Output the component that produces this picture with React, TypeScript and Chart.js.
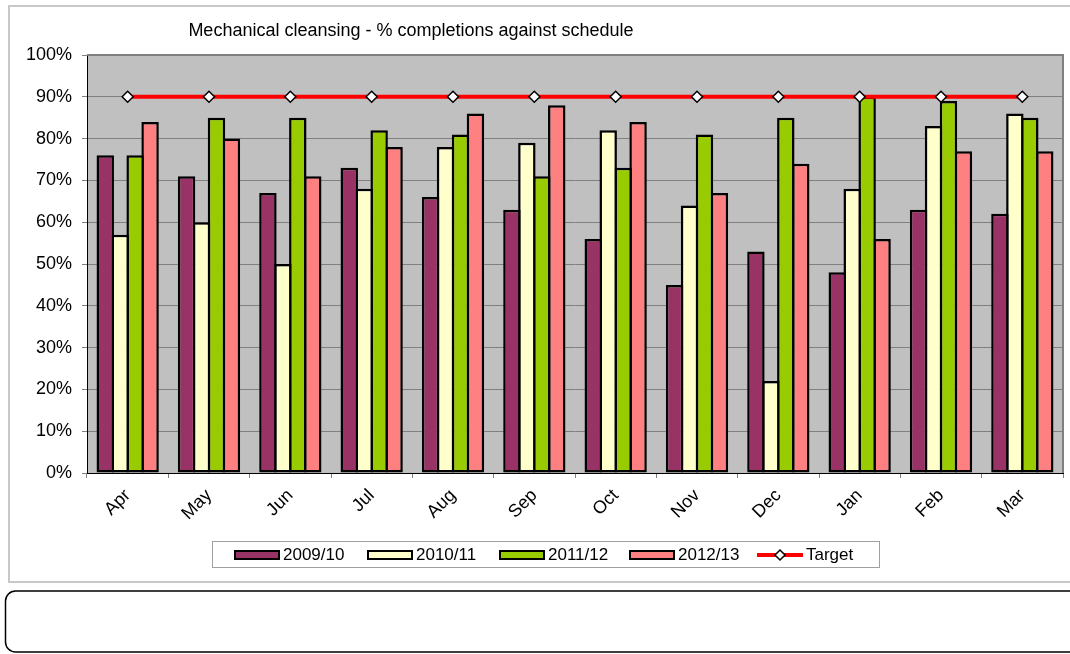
import React, { useEffect, useRef } from "react";
import { Chart, registerables } from "chart.js";

Chart.register(...registerables);

const months = ["Apr", "May", "Jun", "Jul", "Aug", "Sep", "Oct", "Nov", "Dec", "Jan", "Feb", "Mar"];
const series2009 = [76, 71, 67, 73, 66, 63, 56, 45, 53, 48, 63, 62];
const series2010 = [57, 60, 50, 68, 78, 79, 82, 64, 22, 68, 83, 86];
const series2011 = [76, 85, 85, 82, 81, 71, 73, 81, 85, 90, 89, 85];
const series2012 = [84, 80, 71, 78, 86, 88, 84, 67, 74, 56, 77, 77];
const target = [90, 90, 90, 90, 90, 90, 90, 90, 90, 90, 90, 90];
const seriesLabels = ["2009/10", "2010/11", "2011/12", "2012/13", "Target"];
const titleText = "Mechanical cleansing - % completions against schedule";

const FONT = "'Liberation Sans', Arial, sans-serif";
const FS = 18;
const LEGEND_FS = 17;

const decorPlugin = {
  id: "decor",
  beforeDraw(chart: any) {
    const { ctx, chartArea } = chart;
    ctx.save();
    ctx.fillStyle = "#ffffff";
    ctx.fillRect(0, 0, chart.width, chart.height);
    // outer chart frame
    ctx.strokeStyle = "#c8c8c8";
    ctx.lineWidth = 2;
    ctx.strokeRect(9, 6, 1080, 576);
    // lower rounded box
    ctx.strokeStyle = "#000000";
    ctx.lineWidth = 1.5;
    ctx.beginPath();
    const x0 = 5.5, y0 = 591, x1 = 1100, y1 = 652, r = 10;
    ctx.moveTo(x0 + r, y0);
    ctx.lineTo(x1, y0);
    ctx.moveTo(x0 + r, y0);
    ctx.arcTo(x0, y0, x0, y0 + r, r);
    ctx.lineTo(x0, y1 - r);
    ctx.arcTo(x0, y1, x0 + r, y1, r);
    ctx.lineTo(x1, y1);
    ctx.stroke();
    // plot background
    ctx.fillStyle = "#c0c0c0";
    ctx.fillRect(chartArea.left, chartArea.top, chartArea.right - chartArea.left, chartArea.bottom - chartArea.top);
    ctx.restore();
  },
  afterDraw(chart: any) {
    const { ctx, chartArea } = chart;
    ctx.save();
    // plot border top/right
    ctx.strokeStyle = "#808080";
    ctx.lineWidth = 2;
    ctx.beginPath();
    ctx.moveTo(chartArea.left, chartArea.top);
    ctx.lineTo(chartArea.right, chartArea.top);
    ctx.lineTo(chartArea.right, chartArea.bottom);
    ctx.stroke();
    // title
    ctx.fillStyle = "#000";
    ctx.font = `${FS}px ${FONT}`;
    ctx.textAlign = "center";
    ctx.textBaseline = "middle";
    ctx.fillText(titleText, 411, 31);
    // legend
    ctx.font = `${LEGEND_FS}px ${FONT}`;
    ctx.strokeStyle = "#a0a0a0";
    ctx.lineWidth = 1;
    ctx.strokeRect(212.5, 541.5, 667, 26);
    const ds = chart.data.datasets;
    const xs = [235, 368, 500, 630];
    ctx.textAlign = "left";
    for (let i = 0; i < 4; i++) {
      ctx.fillStyle = ds[i].backgroundColor;
      ctx.fillRect(xs[i], 551, 44, 8);
      ctx.strokeStyle = "#000";
      ctx.lineWidth = 2;
      ctx.strokeRect(xs[i], 551, 44, 8);
      ctx.fillStyle = "#000";
      ctx.fillText(ds[i].label, xs[i] + 48, 555.5);
    }
    const t = ds[4];
    ctx.strokeStyle = t.borderColor;
    ctx.lineWidth = 4;
    ctx.beginPath();
    ctx.moveTo(757, 555);
    ctx.lineTo(803, 555);
    ctx.stroke();
    ctx.fillStyle = "#fff";
    ctx.strokeStyle = "#000";
    ctx.lineWidth = 1.5;
    ctx.beginPath();
    ctx.moveTo(780, 550);
    ctx.lineTo(785, 555);
    ctx.lineTo(780, 560);
    ctx.lineTo(775, 555);
    ctx.closePath();
    ctx.fill();
    ctx.stroke();
    ctx.fillStyle = "#000";
    ctx.fillText(t.label, 806, 555.5);
    ctx.restore();
  },
};

export default function App() {
  const ref = useRef<HTMLCanvasElement | null>(null);
  useEffect(() => {
    if (!ref.current) return;
    Chart.defaults.font.family = FONT;
    Chart.defaults.font.size = FS;
    Chart.defaults.color = "#000";
    const barCommon = {
      type: "bar" as const,
      borderColor: "#000",
      borderWidth: 2.5,
      borderSkipped: false,
      barPercentage: 1.167,
      categoryPercentage: 0.735,
      order: 1,
    };
    const chart = new Chart(ref.current, {
      type: "bar",
      data: {
        labels: months,
        datasets: [
          { ...barCommon, label: seriesLabels[0], data: series2009, backgroundColor: "#993366" },
          { ...barCommon, label: seriesLabels[1], data: series2010, backgroundColor: "#FFFFCC" },
          { ...barCommon, label: seriesLabels[2], data: series2011, backgroundColor: "#99CC00" },
          { ...barCommon, label: seriesLabels[3], data: series2012, backgroundColor: "#FF8080" },
          {
            type: "line" as const,
            label: seriesLabels[4],
            data: target,
            borderColor: "#FF0000",
            borderWidth: 4,
            pointStyle: "rectRot",
            pointRadius: 5.5,
            pointBackgroundColor: "#ffffff",
            pointBorderColor: "#000000",
            pointBorderWidth: 1.5,
            order: 0,
          } as any,
        ],
      },
      options: {
        animation: false,
        responsive: false,
        maintainAspectRatio: false,
        layout: { padding: { left: 17, top: 55, right: 4, bottom: 81 } },
        plugins: { legend: { display: false }, tooltip: { enabled: false }, title: { display: false } },
        scales: {
          x: {
            afterFit: (s: any) => { s.height = 100; },
            grid: { display: true, drawOnChartArea: false, drawTicks: true, tickLength: 5, color: "#808080", offset: true },
            border: { display: true, color: "#000", width: 1 },
            ticks: { minRotation: 45, maxRotation: 45, padding: 7, font: { size: FS } },
          },
          y: {
            min: 0,
            max: 100,
            afterFit: (s: any) => { s.width = 70; },
            grid: { color: "#808080", lineWidth: 1, tickLength: 5, drawTicks: true },
            border: { display: true, color: "#000", width: 1 },
            ticks: { stepSize: 10, padding: 10, callback: (v: any) => `${v}%`, font: { size: FS } },
          },
        },
      },
      plugins: [decorPlugin],
    });
    return () => chart.destroy();
  }, []);
  return (
    <div style={{ position: "absolute", left: 0, top: 0, width: 1070, height: 654 }}>
      <canvas ref={ref} width={1070} height={654} style={{ display: "block" }} />
    </div>
  );
}
